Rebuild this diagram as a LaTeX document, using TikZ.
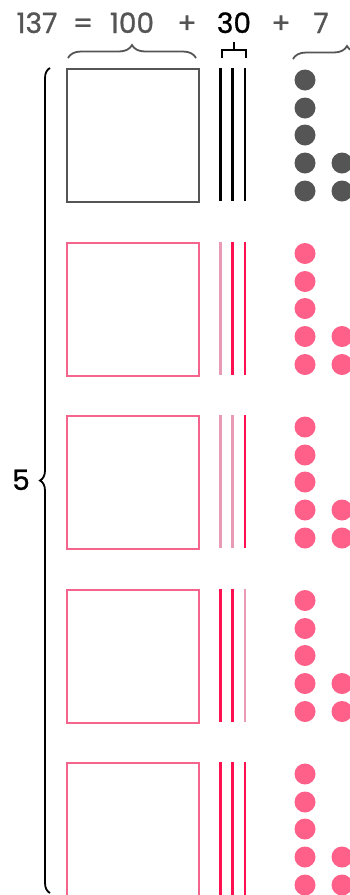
\documentclass[tikz,border=0pt]{standalone}
\usepackage{fontspec}
\setmainfont{Poppins}[FakeBold=1.0]
\usetikzlibrary{decorations.pathreplacing}
\definecolor{dgrey}{HTML}{555555}
\definecolor{sqpink}{HTML}{F4648C}
\definecolor{dotpink}{HTML}{FF6089}
\definecolor{linered}{HTML}{FF1050}
\definecolor{fadepink}{HTML}{E99AB4}
\tikzset{
  txt/.style={font=\fontsize{28}{28}\selectfont, text=dgrey, anchor=base, inner sep=0pt},
  hundred/.style={draw=#1, line width=2.4pt, minimum width=132pt, minimum height=133pt, inner sep=0pt, anchor=north west},
  tenline/.style={draw=#1, line width=2.7pt},
  unitdot/.style={circle, fill=#1, minimum size=21pt, inner sep=0pt},
  bracestyle/.style={line width=1.8pt, decorate, decoration={brace, amplitude=#1}}
}
\begin{document}
\begin{tikzpicture}[x=1pt,y=-1pt]
\useasboundingbox (0,0) rectangle (349,895);
% header
\node[txt] (n137) at (37,33) {137};
\node[txt] (eq) at (83,33) {=};
\node[txt] (n100) at (132,33) {100};
\node[txt] (p1) at (187,33) {+};
\node[txt, text=black] (n30) at (234,33) {30};
\node[txt] (p2) at (281,33) {+};
\node[txt] (n7) at (321,33) {7};
% header braces
\draw[dgrey, bracestyle=13] (68,58) -- (196,58);
\draw[black, line width=1.8pt] (222,58) -- (222,50) -- (246,50) -- (246,58);
\draw[black, line width=1.8pt] (234,50) -- (234,42);
\draw[dgrey, bracestyle=13] (293,59) -- (401,59);
% left brace
\draw[black, bracestyle=10] (50,893) -- (50,68);
\node[font=\fontsize{28}{28}\selectfont, anchor=base, inner sep=0pt] (five) at (21,490) {5};
% groups
\foreach \k/\col/\la/\lb/\lc in {0/dgrey/black/black/black, 1/sqpink/fadepink/linered/linered, 2/sqpink/fadepink/fadepink/linered, 3/sqpink/linered/linered/fadepink, 4/sqpink/linered/linered/linered}{
  \pgfmathsetmacro{\oy}{173.5*\k}
  \node[hundred=\col] (sq\k) at (66,68+\oy) {};
  \draw[tenline=\la] (220.5,68+\oy) -- (220.5,201+\oy);
  \draw[tenline=\lb] (232.5,68+\oy) -- (232.5,201+\oy);
  \draw[tenline=\lc] (245,68+\oy) -- (245,201+\oy);
  \ifnum\k=0 \def\dc{dgrey}\else\def\dc{dotpink}\fi
  \foreach \r/\yy in {1/80,2/108,3/135,4/163,5/191}{
    \node[unitdot=\dc] (d\k a\r) at (305,\yy+\oy) {};
  }
  \node[unitdot=\dc] (d\k b4) at (342,163+\oy) {};
  \node[unitdot=\dc] (d\k b5) at (342,191+\oy) {};
}
\end{tikzpicture}
\end{document}
